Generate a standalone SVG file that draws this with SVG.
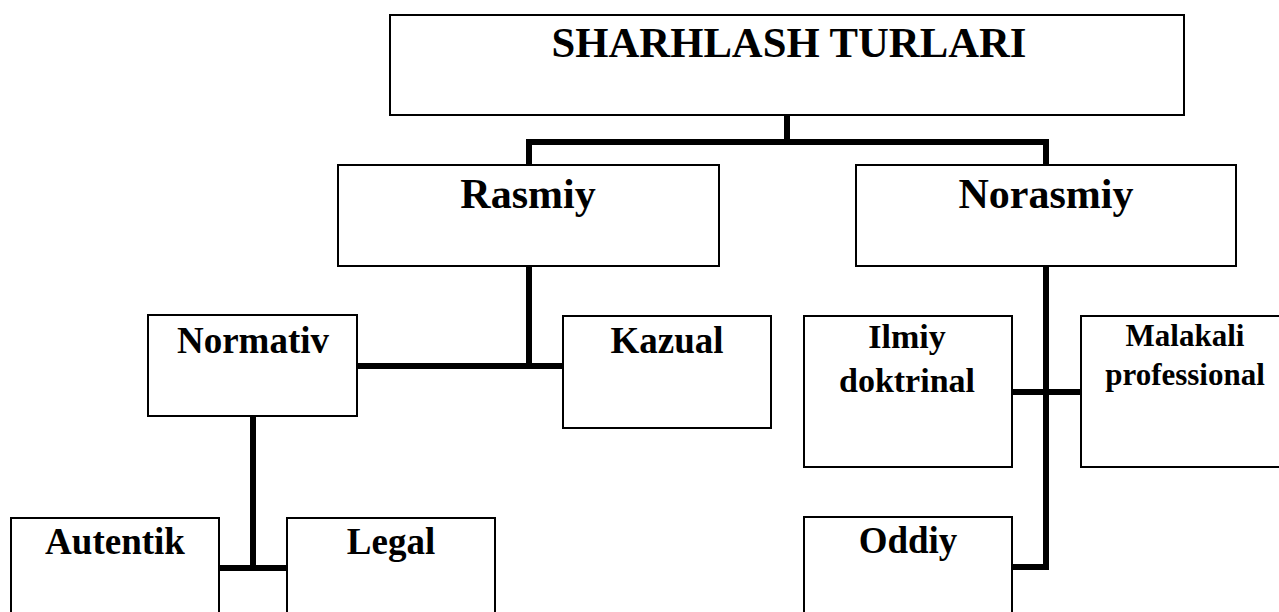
<svg xmlns="http://www.w3.org/2000/svg" width="1279" height="612" viewBox="0 0 1279 612">
<style>
.box{fill:#fff;stroke:#000;stroke-width:2}
.t{font-family:"Liberation Serif","Times New Roman",serif;font-weight:bold;fill:#000;text-anchor:middle}
.conn{fill:none;stroke:#000;stroke-width:6;stroke-linecap:square;stroke-linejoin:miter}
</style>
<rect width="1279" height="612" fill="#fff"/>
<g id="connectors">
<path class="conn" d="M787 116 V142 M529 165 V142 H1046 V165"/>
<path class="conn" d="M529 267 V366 M358 366 H562"/>
<path class="conn" d="M253 417 V568 M220 568 H286"/>
<path class="conn" d="M1046 267 V567 H1013 M1013 392 H1080"/>
</g>
<g id="n-root"><rect class="box" x="390" y="15" width="794" height="100"/><text class="t" x="789" y="57" font-size="42.7">SHARHLASH TURLARI</text></g>
<g id="n-rasmiy"><rect class="box" x="338" y="165" width="381" height="101"/><text class="t" x="528" y="208" font-size="42">Rasmiy</text></g>
<g id="n-norasmiy"><rect class="box" x="856" y="165" width="380" height="101"/><text class="t" x="1046" y="208" font-size="42">Norasmiy</text></g>
<g id="n-normativ"><rect class="box" x="148" y="315" width="209" height="101"/><text class="t" x="253" y="353" font-size="37">Normativ</text></g>
<g id="n-kazual"><rect class="box" x="563" y="316" width="208" height="112"/><text class="t" x="667" y="353" font-size="37">Kazual</text></g>
<g id="n-ilmiy"><rect class="box" x="804" y="316" width="208" height="151"/><text class="t" x="907" y="348" font-size="34">Ilmiy</text><text class="t" x="907" y="392" font-size="34">doktrinal</text></g>
<g id="n-malakali"><rect class="box" x="1081" y="316" width="210" height="151"/><text class="t" x="1185" y="346" font-size="31">Malakali</text><text class="t" x="1185" y="385" font-size="31">professional</text></g>
<g id="n-autentik"><rect class="box" x="11" y="518" width="208" height="110"/><text class="t" x="115" y="554" font-size="37">Autentik</text></g>
<g id="n-legal"><rect class="box" x="287" y="518" width="208" height="110"/><text class="t" x="391" y="554" font-size="37">Legal</text></g>
<g id="n-oddiy"><rect class="box" x="804" y="517" width="208" height="110"/><text class="t" x="908" y="553" font-size="37">Oddiy</text></g>
</svg>
